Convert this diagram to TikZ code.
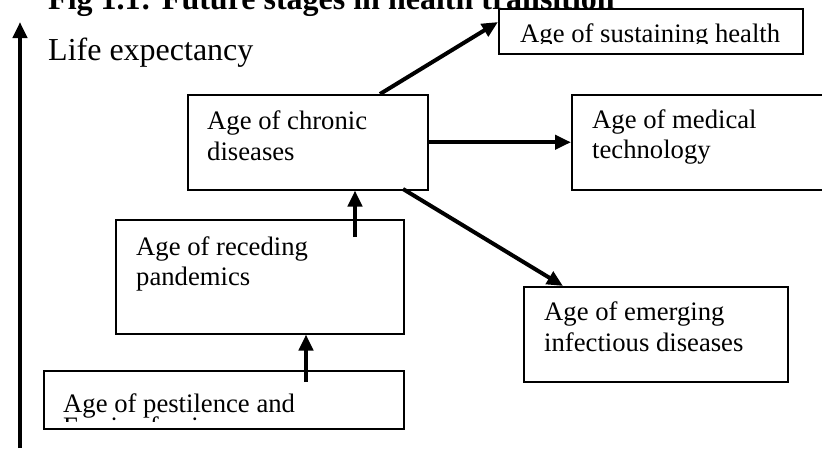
\documentclass[tikz,border=0pt]{standalone}
\usepackage{fontspec}
\setmainfont{Liberation Serif}
\usetikzlibrary{arrows.meta}
\tikzset{
  boxnode/.style={draw, line width=1.5pt, rectangle, inner sep=0pt, anchor=north west},
  arr/.style={line width=4pt, -{Triangle[length=16pt,width=14pt]}},
  txt/.style={anchor=base west, inner sep=0pt, font=\fontsize{26.67pt}{30pt}\selectfont},
  big/.style={anchor=base west, inner sep=0pt, font=\fontsize{32pt}{36pt}\selectfont},
}
\begin{document}
\begin{tikzpicture}[x=1pt,y=-1pt]
\useasboundingbox (0,0) rectangle (822,450);
% title and axis label
\node[big, font=\fontsize{32pt}{36pt}\selectfont\bfseries] (title) at (48,9.5) {Fig 1.1: Future stages in health transition};
\node[big] (life) at (48,60) {Life expectancy};
% axis
\coordinate (ax0) at (20,448);
\coordinate (ax1) at (20,22);
\draw[arr] (ax0) -- (ax1);
% boxes
\node[boxnode, minimum width=304pt, minimum height=45pt] (sus) at (498,8) {};
\node[boxnode, minimum width=240pt, minimum height=95pt] (chr) at (187,94) {};
\node[boxnode, minimum width=260pt, minimum height=95pt] (med) at (571,94) {};
\node[boxnode, minimum width=288pt, minimum height=114pt] (rec) at (115,219) {};
\node[boxnode, minimum width=264pt, minimum height=95pt] (emg) at (523,286) {};
\node[boxnode, minimum width=360pt, minimum height=58pt] (pest) at (43,370) {};
% texts
\begin{scope}
\clip (498,8) rectangle (802,43);
\node[txt] (sust) at (520,42) {Age of sustaining health};
\end{scope}
\node[txt] (chrA) at (207,129) {Age of chronic};
\node[txt] (chrB) at (207,160) {diseases};
\node[txt] (medA) at (592,128) {Age of medical};
\node[txt] (medB) at (592,158.7) {technology};
\node[txt] (recA) at (136,255) {Age of receding};
\node[txt] (recB) at (136,285) {pandemics};
\node[txt] (emgA) at (544,320) {Age of emerging};
\node[txt] (emgB) at (544,351) {infectious diseases};
\begin{scope}
\clip (43,370) rectangle (403,421);
\node[txt] (pestA) at (63,412) {Age of pestilence and};
\node[txt] (pestB) at (63,435.5) {Famine famine};
\end{scope}
% connectors
\coordinate (p1) at (306,382);
\draw[arr] (p1) -- (p1 |- rec.south);
\coordinate (r1) at (355,237);
\draw[arr] (r1) -- (r1 |- chr.south);
\coordinate (c1) at (380,94);
\coordinate (s1) at (498,22);
\draw[arr] (c1) -- (s1);
\draw[arr] (chr.east) -- (chr.east -| med.west);
\coordinate (c2) at (403,189);
\coordinate (e1) at (563,286);
\draw[arr] (c2) -- (e1);
\end{tikzpicture}
\end{document}
